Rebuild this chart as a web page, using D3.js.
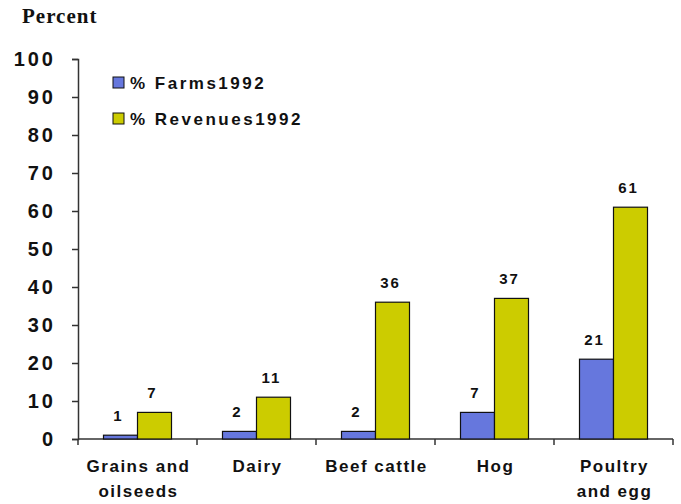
<!DOCTYPE html>
<html>
<head>
<meta charset="utf-8">
<script src="https://cdn.jsdelivr.net/npm/d3@7"></script>
<style>
  body { margin: 0; background: #fff; }
  text { font-family: Arial, "Liberation Sans", sans-serif; font-weight: bold; }
</style>
</head>
<body>
<div id="chart"></div>
<script>
// categories and series
var categories = [["Grains and", "oilseeds"], ["Dairy"], ["Beef cattle"], ["Hog"], ["Poultry", "and egg"]];
var farms = [1, 2, 2, 7, 21];
var revenues = [7, 11, 36, 37, 61];
var seriesNames = ["% Farms1992", "% Revenues1992"];
var seriesColors = ["#6677dd", "#cccc00"];
var yTicks = [0, 10, 20, 30, 40, 50, 60, 70, 80, 90, 100];

var width = 681, height = 504;
var margin = {top: 59, left: 78};

var svg = d3.select("#chart")
  .append("svg")
  .attr("width", width)
  .attr("height", height);

var g = svg.append("g")
  .attr("transform", "translate(" + margin.left + "," + margin.top + ")");

var innerW = 673 - margin.left, innerH = 439 - margin.top;

var xScale = d3.scaleBand()
  .domain(d3.range(categories.length))
  .range([0, innerW]);

var xSub = d3.scaleBand()
  .domain([0, 1])
  .range([0, 68]);

var yScale = d3.scaleLinear()
  .domain([0, 100])
  .range([innerH, 0]);

// y axis
var yAxis = g.append("g")
  .call(d3.axisLeft(yScale).tickValues(yTicks).tickSize(6).tickPadding(16));
yAxis.select(".domain").attr("stroke", "#333").attr("stroke-width", 1.5);
yAxis.selectAll(".tick line").attr("stroke", "#333").attr("stroke-width", 1.5);
yAxis.selectAll("text")
  .style("font-size", "20px")
  .style("font-weight", "bold")
  .style("font-family", "Arial, 'Liberation Sans', sans-serif")
  .attr("fill", "#111")
  .attr("letter-spacing", "3px");

// x axis with ticks at band boundaries
var xAxis = g.append("g")
  .attr("transform", "translate(0," + innerH + ")");
xAxis.append("line")
  .attr("x1", 0).attr("x2", innerW)
  .attr("stroke", "#333").attr("stroke-width", 1.5);
xAxis.selectAll(".xt")
  .data(d3.range(categories.length + 1))
  .enter()
  .append("line")
  .attr("x1", function(d) { return d < categories.length ? xScale(d) : innerW; })
  .attr("x2", function(d) { return d < categories.length ? xScale(d) : innerW; })
  .attr("y1", 0).attr("y2", 6)
  .attr("stroke", "#333").attr("stroke-width", 1.5);

var xLabels = xAxis.selectAll(".xl")
  .data(categories)
  .enter()
  .append("text")
  .attr("text-anchor", "middle")
  .attr("fill", "#111")
  .style("font-size", "17px")
  .attr("letter-spacing", "1.5px")
  .attr("transform", function(d, i) { return "translate(" + (xScale(i) + xScale.bandwidth() / 2 + 1) + ",0)"; });
xLabels.selectAll("tspan")
  .data(function(d) { return d; })
  .enter()
  .append("tspan")
  .attr("x", 0)
  .attr("y", function(d, i) { return 33 + i * 25; })
  .text(function(d) { return d; });

// bars
var groups = g.selectAll(".grp")
  .data(categories.map(function(c, i) { return [farms[i], revenues[i]]; }))
  .enter()
  .append("g")
  .attr("transform", function(d, i) { return "translate(" + (xScale(i) + xScale.bandwidth() / 2 - 34) + ",0)"; });

groups.selectAll("rect")
  .data(function(d) { return d; })
  .enter()
  .append("rect")
  .attr("x", function(d, j) { return xSub(j); })
  .attr("y", function(d) { return yScale(d); })
  .attr("width", xSub.bandwidth())
  .attr("height", function(d) { return innerH - yScale(d); })
  .attr("fill", function(d, j) { return seriesColors[j]; })
  .attr("stroke", "#111")
  .attr("stroke-width", 1.2);

groups.selectAll(".val")
  .data(function(d) { return d; })
  .enter()
  .append("text")
  .attr("x", function(d, j) { return xSub(j) + xSub.bandwidth() / 2 - 2; })
  .attr("y", function(d) { return yScale(d) - 14; })
  .attr("text-anchor", "middle")
  .attr("fill", "#111")
  .style("font-size", "15px")
  .attr("letter-spacing", "2px")
  .text(function(d) { return d; });

// title
svg.append("text")
  .attr("x", 22).attr("y", 23)
  .style("font-family", "'Times New Roman', 'Liberation Serif', serif")
  .style("font-size", "21px")
  .attr("letter-spacing", "1px")
  .attr("fill", "#111")
  .text("Percent");

// legend
var legend = svg.selectAll(".legend")
  .data(seriesNames)
  .enter()
  .append("g")
  .attr("transform", function(d, i) { return "translate(113," + (77 + i * 36) + ")"; });
legend.append("rect")
  .attr("width", 11).attr("height", 11)
  .attr("fill", function(d, i) { return seriesColors[i]; })
  .attr("stroke", "#111").attr("stroke-width", 1);
legend.append("text")
  .attr("x", 17).attr("y", 12)
  .attr("fill", "#111")
  .style("font-size", "17px")
  .attr("letter-spacing", "2.5px")
  .text(function(d) { return d; });
</script>
</body>
</html>
